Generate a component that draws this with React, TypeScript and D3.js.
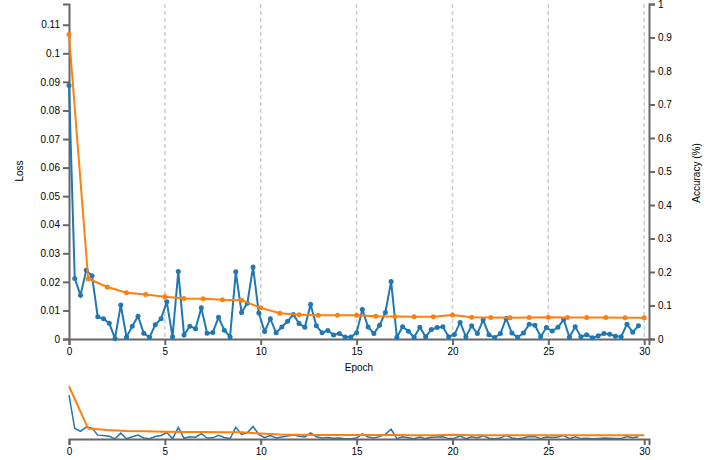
import React, { useEffect, useRef } from 'react';
import * as d3 from 'd3';

// Per-epoch loss (orange), epochs 0..30
const epochLoss: number[] = [
  0.1066, 0.0211, 0.0182, 0.0162, 0.0156, 0.0148, 0.0142, 0.0141, 0.0137, 0.0136,
  0.0109, 0.0090, 0.0085, 0.0083, 0.0083, 0.0083, 0.0080, 0.0079, 0.0078, 0.0078,
  0.0084, 0.0076, 0.0075, 0.0074, 0.0075, 0.0076, 0.0075, 0.0075, 0.0075, 0.0074,
  0.0074,
];

// Per-batch loss (blue), sampled every 0.3 epoch
const batchLoss: number[] = [
  0.0887, 0.0212, 0.0153, 0.0241, 0.0221, 0.0078, 0.0071, 0.0055, 0.0002, 0.0119,
  0.0006, 0.0045, 0.0080, 0.0020, 0.0006, 0.0050, 0.0071, 0.0130, 0.0008, 0.0236,
  0.0014, 0.0045, 0.0036, 0.0109, 0.0020, 0.0023, 0.0076, 0.0031, 0.0008, 0.0235,
  0.0093, 0.0125, 0.0252, 0.0091, 0.0026, 0.0071, 0.0022, 0.0042, 0.0062, 0.0086,
  0.0054, 0.0041, 0.0121, 0.0046, 0.0022, 0.0030, 0.0014, 0.0019, 0.0007, 0.0007,
  0.0022, 0.0103, 0.0042, 0.0019, 0.0048, 0.0093, 0.0201, 0.0006, 0.0043, 0.0027,
  0.0006, 0.0041, 0.0008, 0.0033, 0.0040, 0.0043, 0.0008, 0.0016, 0.0058, 0.0008,
  0.0046, 0.0019, 0.0067, 0.0015, 0.0005, 0.0019, 0.0072, 0.0021, 0.0006, 0.0021,
  0.0052, 0.0048, 0.0008, 0.0040, 0.0028, 0.0041, 0.0068, 0.0006, 0.0043, 0.0008,
  0.0015, 0.0004, 0.0011, 0.0019, 0.0017, 0.0010, 0.0008, 0.0052, 0.0024, 0.0046,
];

const epochs: number[] = epochLoss.map((_, i) => i);
const batchEpochs: number[] = batchLoss.map((_, i) => +(i * 0.3).toFixed(1));

const xTicks: number[] = [0, 5, 10, 15, 20, 25, 30];
const xLabel = 'Epoch';
const yLeftLabel = 'Loss';
const yRightLabel = 'Accuracy (%)';

const BLUE = '#1f77b4';
const ORANGE = '#ff7f0e';
const FONT = '"Liberation Sans", Arial, sans-serif';

export default function App() {
  const ref = useRef<SVGSVGElement>(null);

  useEffect(() => {
    const svg = d3.select(ref.current);
    svg.selectAll('*').remove();

    const left = 69, right = 649, top = 4, bottom = 339;
    const cTop = 381, cBottom = 439;

    const maxLoss = d3.max([...epochLoss, ...batchLoss]) as number;
    const x = d3.scaleLinear().domain([0, 30.25]).range([left, right]);
    const y = d3.scaleLinear().domain([0, maxLoss * 1.1]).range([bottom, top]);
    const yR = d3.scaleLinear().domain([0, 1]).range([bottom, top]);
    const yC = d3.scaleLinear().domain([0, maxLoss * 1.1]).range([cBottom, cTop]);

    const styleAxis = (g: any) => {
      g.attr('font-family', FONT).attr('font-size', 10);
      g.select('.domain').attr('stroke', '#666').attr('stroke-width', 2);
      g.selectAll('.tick line').attr('stroke', '#666').attr('stroke-width', 2);
      g.selectAll('.tick text').attr('fill', '#000');
    };

    // gridlines
    svg.append('g')
      .selectAll('line')
      .data(xTicks.filter((t) => t > 0))
      .join('line')
      .attr('x1', (d) => x(d)).attr('x2', (d) => x(d))
      .attr('y1', top).attr('y2', bottom)
      .attr('stroke', '#ccc').attr('stroke-width', 1.5)
      .attr('stroke-dasharray', '4,3');

    // axes
    svg.append('g').attr('transform', `translate(0,${bottom})`)
      .call(d3.axisBottom(x).tickValues(xTicks).tickFormat(d3.format('d')) as any)
      .call(styleAxis);
    svg.append('g').attr('transform', `translate(${left},0)`)
      .call(d3.axisLeft(y).ticks(12).tickFormat((d: any) => `${+d.toFixed(2)}`) as any)
      .call(styleAxis);
    svg.append('g').attr('transform', `translate(${right},0)`)
      .call(d3.axisRight(yR).ticks(10).tickFormat((d: any) => `${+d.toFixed(1)}`) as any)
      .call(styleAxis);

    // axis labels
    svg.append('text').attr('x', (left + right) / 2).attr('y', 371)
      .attr('text-anchor', 'middle').attr('font-family', FONT).attr('font-size', 10)
      .text(xLabel);
    svg.append('text').attr('transform', `translate(23,171) rotate(-90)`)
      .attr('text-anchor', 'middle').attr('font-family', FONT).attr('font-size', 10)
      .text(yLeftLabel);
    svg.append('text').attr('transform', `translate(700,173) rotate(-90)`)
      .attr('text-anchor', 'middle').attr('font-family', FONT).attr('font-size', 10)
      .text(yRightLabel);

    const batchPts = batchLoss.map((v, i) => [batchEpochs[i], v] as [number, number]);
    const epochPts = epochLoss.map((v, i) => [epochs[i], v] as [number, number]);

    const lineMain = d3.line<[number, number]>().x((d) => x(d[0])).y((d) => y(d[1]));
    const lineCtx = d3.line<[number, number]>().x((d) => x(d[0])).y((d) => yC(d[1]));

    // main series
    svg.append('path').datum(batchPts).attr('d', lineMain)
      .attr('fill', 'none').attr('stroke', BLUE).attr('stroke-width', 2);
    svg.append('g').selectAll('circle').data(batchPts).join('circle')
      .attr('cx', (d) => x(d[0])).attr('cy', (d) => y(d[1])).attr('r', 2.5).attr('fill', BLUE);
    svg.append('path').datum(epochPts).attr('d', lineMain)
      .attr('fill', 'none').attr('stroke', ORANGE).attr('stroke-width', 2);
    svg.append('g').selectAll('circle').data(epochPts).join('circle')
      .attr('cx', (d) => x(d[0])).attr('cy', (d) => y(d[1])).attr('r', 2.5).attr('fill', ORANGE);

    // context
    svg.append('path').datum(batchPts).attr('d', lineCtx)
      .attr('fill', 'none').attr('stroke', BLUE).attr('stroke-width', 1.5);
    svg.append('path').datum(epochPts).attr('d', lineCtx)
      .attr('fill', 'none').attr('stroke', ORANGE).attr('stroke-width', 2);
    svg.append('g').attr('transform', `translate(0,${cBottom})`)
      .call(d3.axisBottom(x).tickValues(xTicks).tickFormat(d3.format('d')) as any)
      .call(styleAxis);
  }, []);

  return (
    <svg
      ref={ref}
      width={710}
      height={460}
      style={{ position: 'absolute', left: 0, top: 0, background: '#fff' }}
    />
  );
}
